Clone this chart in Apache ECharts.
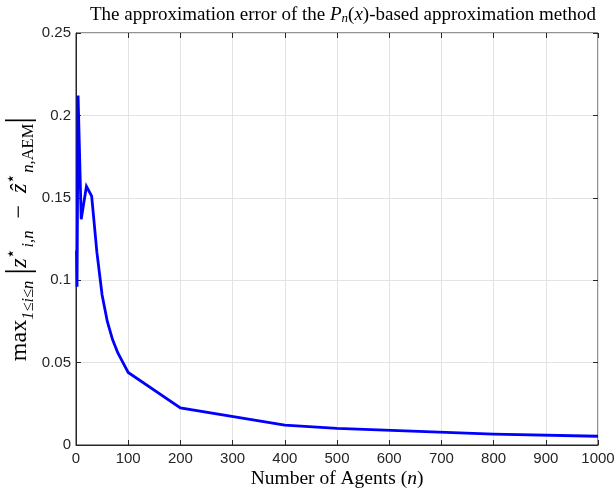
<!DOCTYPE html>
<html>
<head>
<meta charset="utf-8">
<script src="https://cdn.jsdelivr.net/npm/echarts@6/dist/echarts.min.js"></script>
<style>html,body{margin:0;padding:0;background:#fff}#c{width:615px;height:489px}</style>
</head>
<body>
<div id="c"></div>
<script>
var nValues = [1, 2, 4, 10, 20, 30, 40, 50, 60, 70, 80, 90, 100, 200, 400, 500, 800, 1000];
var errValues = [0.118, 0.096, 0.212, 0.137, 0.157, 0.151, 0.117, 0.091, 0.075, 0.064, 0.056, 0.050, 0.044, 0.0225, 0.012, 0.0101, 0.0066, 0.0053];
var xTicks = [0, 100, 200, 300, 400, 500, 600, 700, 800, 900, 1000];
var yTicks = [0, 0.05, 0.1, 0.15, 0.2, 0.25];

var serif = 'Liberation Serif';
var sans = 'Liberation Sans';
var axisColor = '#262626';
var seriesData = nValues.map(function (n, i) { return [n, errValues[i]]; });

var chart = echarts.init(document.getElementById('c'), null, {renderer: 'canvas'});
var mirrorAxis = {
  axisLine: {show: false, onZero: false}, axisLabel: {show: false}, splitLine: {show: false},
  axisTick: {show: true, inside: true, length: 5, lineStyle: {color: axisColor}}
};
chart.setOption({
  animation: false,
  backgroundColor: '#fff',
  title: {
    text: 'The approximation error of the {i|P}{sub|n}{n|(}{i|x}{n|)}-based approximation method',
    left: 338, top: 0, textAlign: 'center',
    textStyle: {
      fontFamily: serif, fontSize: 19, fontWeight: 'normal', color: '#000',
      rich: {
        n: {fontFamily: serif, fontSize: 19, color: '#000'},
        i: {fontFamily: serif, fontSize: 19, fontStyle: 'italic', color: '#000'},
        sub: {fontFamily: serif, fontSize: 13, fontStyle: 'italic', color: '#000', verticalAlign: 'bottom', padding: [7, 0, 0, 0]}
      }
    }
  },
  grid: {left: 76, right: 17, top: 33, bottom: 44, show: true, borderColor: axisColor, borderWidth: 1,
    backgroundColor: 'transparent', containLabel: false, outerBoundsMode: 'none'},
  xAxis: [{
    type: 'value', min: 0, max: 1000, interval: 100,
    name: 'Number of Agents ({i|n})', nameLocation: 'middle', nameGap: 24, nameMoveOverlap: false,
    nameTextStyle: {fontFamily: serif, fontSize: 19.5, color: '#000',
      rich: {i: {fontFamily: serif, fontSize: 19.5, fontStyle: 'italic', color: '#000'}}},
    axisLine: {show: true, onZero: false, lineStyle: {color: axisColor}},
    axisTick: {show: true, inside: true, length: 5, lineStyle: {color: axisColor}},
    axisLabel: {fontFamily: sans, fontSize: 15, color: axisColor, margin: 6,
      formatter: function (v) { return xTicks.indexOf(v) >= 0 ? String(v) : ''; }},
    splitLine: {show: true, lineStyle: {color: '#e3e3e3', width: 1}}
  }, Object.assign({type: 'value', position: 'top', min: 0, max: 1000, interval: 100}, mirrorAxis)],
  yAxis: [{
    type: 'value', min: 0, max: 0.25, interval: 0.05,
    name: 'max{sub|1≤i≤n} {bar||}{i|z}{sup|⋆}{sub|i,n}  −  {i|ẑ}{sup|⋆}{sub|n,}{subr|AEM}{bar||}',
    nameLocation: 'middle', nameRotate: 90, nameGap: 39, nameMoveOverlap: false,
    nameTextStyle: {fontFamily: serif, fontSize: 24, color: '#000',
      rich: {
        i: {fontFamily: serif, fontSize: 24, fontStyle: 'italic', color: '#000'},
        sub: {fontFamily: serif, fontSize: 16.5, fontStyle: 'italic', color: '#000', verticalAlign: 'bottom', padding: [12, 0, 0, 0]},
        subr: {fontFamily: serif, fontSize: 16.5, color: '#000', verticalAlign: 'bottom', padding: [12, 0, 0, 0]},
        sup: {fontFamily: serif, fontSize: 16.5, color: '#000', verticalAlign: 'top', padding: [0, 0, 12, 0]},
        bar: {fontFamily: serif, fontSize: 34, color: '#000'}
      }},
    axisLine: {show: true, onZero: false, lineStyle: {color: axisColor}},
    axisTick: {show: true, inside: true, length: 5, lineStyle: {color: axisColor}},
    axisLabel: {fontFamily: sans, fontSize: 15, color: axisColor, margin: 5,
      formatter: function (v) {
        for (var k = 0; k < yTicks.length; k++) { if (Math.abs(yTicks[k] - v) < 1e-9) return String(yTicks[k]); }
        return '';
      }},
    splitLine: {show: true, lineStyle: {color: '#e3e3e3', width: 1}}
  }, Object.assign({type: 'value', position: 'right', min: 0, max: 0.25, interval: 0.05}, mirrorAxis)],
  series: [{
    type: 'line', xAxisIndex: 0, yAxisIndex: 0,
    data: seriesData, showSymbol: false, symbol: 'none',
    lineStyle: {color: '#0000ff', width: 2.8, join: 'miter'},
    z: 5
  }]
});
</script>
</body>
</html>
